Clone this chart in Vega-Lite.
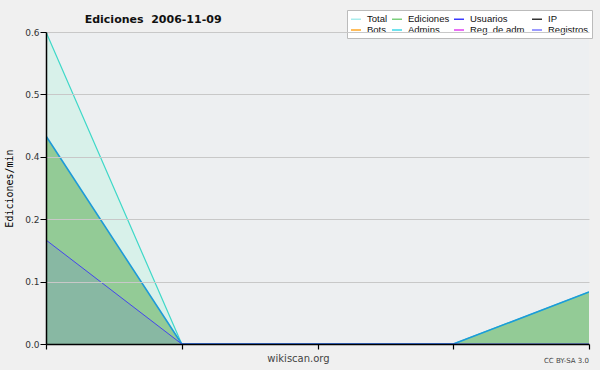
{
  "$schema": "https://vega.github.io/schema/vega-lite/v6.json",
  "autosize": "none",
  "width": 543,
  "height": 312,
  "padding": {"left": 46, "top": 32, "right": 11, "bottom": 26},
  "background": "#f0f0f0",
  "title": {
    "text": "Ediciones\u00a0\u00a02006-11-09",
    "anchor": "start",
    "frame": "bounds",
    "dx": 80,
    "dy": 24,
    "offset": 0,
    "baseline": "alphabetic",
    "font": "DejaVu Sans",
    "fontSize": 11,
    "fontWeight": "bold",
    "color": "#111"
  },
  "config": {
    "view": {"fill": "#edeff1", "stroke": null},
    "legend": {"labelFont": "Liberation Sans", "labelFontSize": 9.5}
  },
  "datasets": {
    "series": [
      {"serie": "Total", "x": 0, "v": 0.6},
      {"serie": "Total", "x": 1, "v": 0},
      {"serie": "Total", "x": 2, "v": 0},
      {"serie": "Total", "x": 3, "v": 0},
      {"serie": "Total", "x": 4, "v": 0.1},
      {"serie": "Ediciones", "x": 0, "v": 0.4},
      {"serie": "Ediciones", "x": 1, "v": 0},
      {"serie": "Ediciones", "x": 2, "v": 0},
      {"serie": "Ediciones", "x": 3, "v": 0},
      {"serie": "Ediciones", "x": 4, "v": 0.1},
      {"serie": "Usuarios", "x": 0, "v": 0.2},
      {"serie": "Usuarios", "x": 1, "v": 0},
      {"serie": "Usuarios", "x": 2, "v": 0},
      {"serie": "Usuarios", "x": 3, "v": 0},
      {"serie": "Usuarios", "x": 4, "v": 0}
    ],
    "credit": [{"t": "CC BY-SA 3.0"}]
  },
  "layer": [
    {
      "data": {"name": "series"},
      "transform": [{"filter": "datum.serie == 'Total'"}],
      "mark": {"type": "area", "color": "#d8f1ea", "opacity": 1, "clip": true},
      "encoding": {
        "x": {
          "field": "x",
          "type": "quantitative",
          "scale": {"domain": [0, 4], "nice": false, "zero": false},
          "axis": {
            "values": [0, 1, 2, 3, 4],
            "labels": false,
            "grid": false,
            "zindex": 1,
            "tickSize": 5,
            "tickColor": "#000",
            "domainColor": "#000",
            "domainWidth": 1.5,
            "tickWidth": 1.2,
            "title": "wikiscan.org",
            "titleFont": "DejaVu Sans",
            "titleFontSize": 10,
            "titleFontWeight": "normal",
            "titleColor": "#444",
            "titleX": 252,
            "titleY": 17,
            "titleAlign": "center",
            "titleBaseline": "alphabetic"
          }
        },
        "y": {
          "field": "v",
          "type": "quantitative",
          "stack": null,
          "scale": {"domain": [0, 0.6], "nice": false},
          "axis": {
            "values": [0, 0.03, 0.06, 0.09, 0.12, 0.15, 0.18, 0.21, 0.24, 0.27, 0.3, 0.33, 0.36, 0.39, 0.42, 0.45, 0.48, 0.51, 0.54, 0.57, 0.6],
            "labelExpr": "abs(datum.value/0.12 - round(datum.value/0.12)) < 0.001 ? format(datum.value, '.1f') : ''",
            "labelOverlap": false,
            "labelFont": "DejaVu Sans",
            "labelFontSize": 9,
            "labelColor": "#333",
            "labelPadding": 1,
            "zindex": 1,
            "tickColor": "#000",
            "tickSize": {"condition": {"test": "abs(datum.value/0.12 - round(datum.value/0.12)) < 0.001", "value": 6}, "value": 3},
            "domainColor": "#000",
            "domainWidth": 1.5,
            "grid": true,
            "gridColor": "#c8c8c8",
            "gridOpacity": {"condition": {"test": "abs(datum.value/0.12 - round(datum.value/0.12)) < 0.001 && datum.value > 0.001", "value": 1}, "value": 0},
            "title": "Ediciones/min",
            "titleFont": "DejaVu Sans Mono",
            "titleFontSize": 10,
            "titleFontWeight": "normal",
            "titleColor": "#000",
            "titlePadding": 10
          }
        }
      }
    },
    {
      "data": {"name": "series"},
      "transform": [{"filter": "datum.serie == 'Ediciones'"}],
      "mark": {"type": "area", "color": "#93cb96", "opacity": 1, "clip": true},
      "encoding": {
        "x": {"field": "x", "type": "quantitative"},
        "y": {"field": "v", "type": "quantitative", "stack": null}
      }
    },
    {
      "data": {"name": "series"},
      "transform": [{"filter": "datum.serie == 'Usuarios'"}],
      "mark": {"type": "area", "color": "#4040ff", "opacity": 0.13, "clip": true},
      "encoding": {
        "x": {"field": "x", "type": "quantitative"},
        "y": {"field": "v", "type": "quantitative", "stack": null}
      }
    },
    {
      "data": {"name": "series"},
      "transform": [{"filter": "datum.serie == 'Total'"}],
      "mark": {"type": "line", "color": "#3ed8c8", "strokeWidth": 1.2, "clip": true},
      "encoding": {
        "x": {"field": "x", "type": "quantitative"},
        "y": {"field": "v", "type": "quantitative"}
      }
    },
    {
      "data": {"name": "series"},
      "transform": [{"filter": "datum.serie == 'Ediciones'"}],
      "mark": {"type": "line", "color": "#1e9ad8", "strokeWidth": 1.6, "clip": true},
      "encoding": {
        "x": {"field": "x", "type": "quantitative"},
        "y": {"field": "v", "type": "quantitative"}
      }
    },
    {
      "data": {"name": "series"},
      "transform": [{"filter": "datum.serie == 'Usuarios'"}],
      "mark": {"type": "line", "color": "#4444ee", "strokeWidth": 1, "clip": true},
      "encoding": {
        "x": {"field": "x", "type": "quantitative"},
        "y": {"field": "v", "type": "quantitative"}
      }
    },
    {
      "data": {"name": "series"},
      "transform": [{"filter": "datum.serie == 'ninguna'"}],
      "mark": {"type": "line", "strokeWidth": 1.5},
      "encoding": {
        "x": {"field": "x", "type": "quantitative"},
        "y": {"field": "v", "type": "quantitative"},
        "color": {
          "field": "serie",
          "type": "nominal",
          "scale": {
            "domain": ["Total", "Ediciones", "Usuarios", "IP", "Bots", "Admins.", "Reg. de adm.", "Registros"],
            "range": ["#a8ecec", "#7ccf7c", "#3a3aff", "#333333", "#ffa726", "#40d8e8", "#e040f0", "#7a7aff"]
          },
          "legend": {
            "title": null,
            "orient": "none",
            "legendX": 301,
            "legendY": -22,
            "columns": 4,
            "direction": "horizontal",
            "columnPadding": 1,
            "rowPadding": 0,
            "symbolType": "stroke",
            "symbolSize": 100,
            "symbolStrokeWidth": 1.5,
            "labelOffset": 5,
            "fillColor": "#ffffff",
            "strokeColor": "#bbbbbb",
            "padding": 3,
            "cornerRadius": 0,
            "labelColor": "#111"
          }
        }
      }
    },
    {
      "data": {"name": "credit"},
      "mark": {"type": "text", "align": "right", "baseline": "alphabetic", "font": "DejaVu Sans", "fontSize": 7, "color": "#444"},
      "encoding": {
        "x": {"datum": 4},
        "y": {"datum": -0.036},
        "text": {"field": "t"}
      }
    }
  ]
}
